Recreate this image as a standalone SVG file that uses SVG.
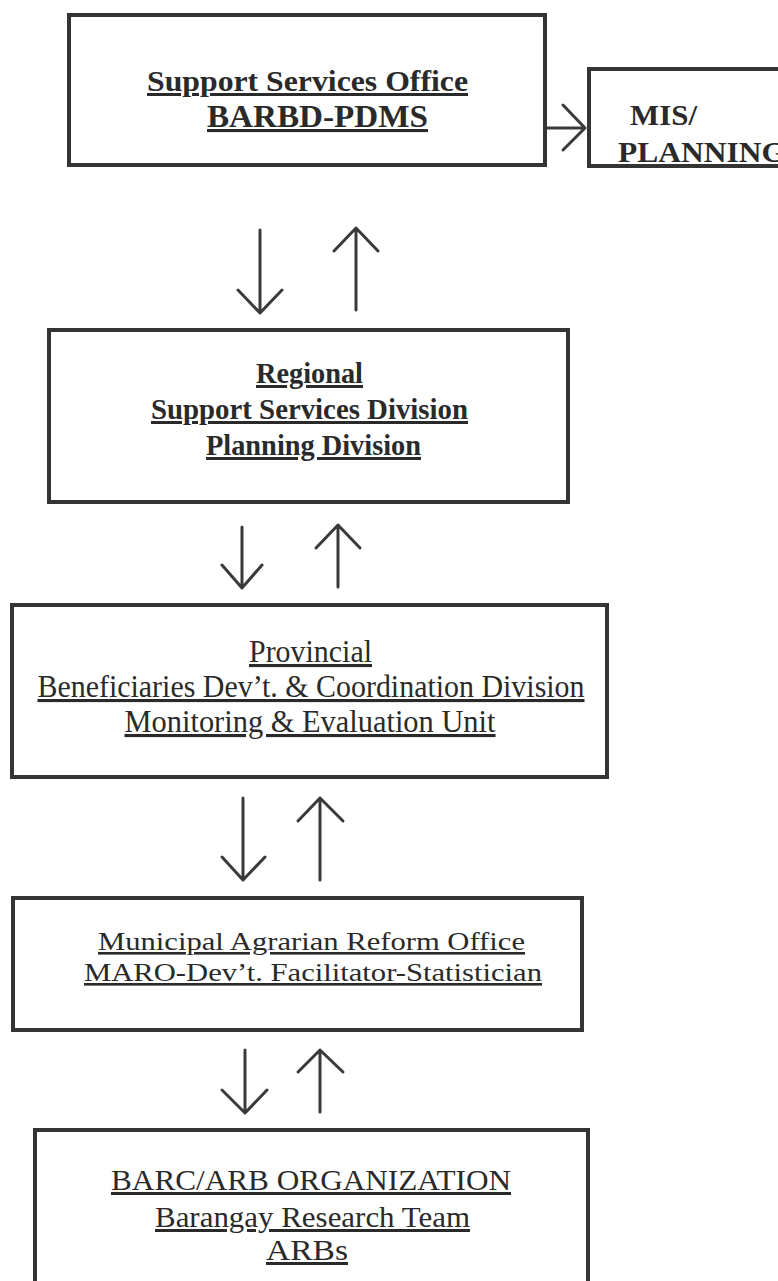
<svg xmlns="http://www.w3.org/2000/svg" width="778" height="1281" viewBox="0 0 778 1281">
<style>
.box{fill:none;stroke:#343434;stroke-width:4}
.arr{fill:none;stroke:#3a3a3a;stroke-width:3;stroke-linecap:round;stroke-linejoin:round}
text{font-family:"Liberation Serif","Times New Roman",serif;fill:#2a2a2a;text-decoration:underline;text-anchor:middle}
.b{font-weight:bold}
.plain{text-decoration:none;text-anchor:start}
</style>
<rect width="778" height="1281" fill="#ffffff"/>
<g id="connectors">
<path class="arr" d="M547 128 H585 M563 105 L585 128 L563 150"/>
<path class="arr" d="M260 230 V313 M238 290 L260 313 L282 290"/>
<path class="arr" d="M356 310 V228 M334 251 L356 228 L378 251"/>
<path class="arr" d="M242 527 V588 M222 565 L242 588 L262 565"/>
<path class="arr" d="M338 587 V525 M316 548 L338 525 L360 548"/>
<path class="arr" d="M243 798 V880 M222 857 L243 880 L265 857"/>
<path class="arr" d="M320 880 V798 M298 821 L320 798 L343 821"/>
<path class="arr" d="M245 1050 V1113 M222 1090 L245 1113 L267 1090"/>
<path class="arr" d="M320 1112 V1050 M298 1072 L320 1050 L343 1072"/>
</g>
<g id="support-services-office">
<rect class="box" x="69" y="15" width="476" height="150"/>
<text class="b" x="307.5" y="91" font-size="30" textLength="321" lengthAdjust="spacingAndGlyphs">Support Services Office</text>
<text class="b" x="317.5" y="127" font-size="31" textLength="221" lengthAdjust="spacingAndGlyphs">BARBD-PDMS</text>
</g>
<g id="mis-planning">
<rect class="box" x="589" y="69" width="220" height="97"/>
<text class="b plain" x="630" y="125" font-size="29" textLength="67" lengthAdjust="spacingAndGlyphs">MIS/</text>
<text class="b plain" x="618" y="162" font-size="29" textLength="168" lengthAdjust="spacingAndGlyphs">PLANNING</text>
</g>
<g id="regional">
<rect class="box" x="49" y="330" width="519" height="172"/>
<text class="b" x="309.5" y="383" font-size="30" textLength="107" lengthAdjust="spacingAndGlyphs">Regional</text>
<text class="b" x="309.5" y="419" font-size="30" textLength="317" lengthAdjust="spacingAndGlyphs">Support Services Division</text>
<text class="b" x="313.5" y="455" font-size="30" textLength="215" lengthAdjust="spacingAndGlyphs">Planning Division</text>
</g>
<g id="provincial">
<rect class="box" x="12" y="605" width="595" height="172"/>
<text x="310.5" y="662" font-size="31" textLength="123" lengthAdjust="spacingAndGlyphs">Provincial</text>
<text x="311" y="697" font-size="31" textLength="547" lengthAdjust="spacingAndGlyphs">Beneficiaries Dev’t. &amp; Coordination Division</text>
<text x="310" y="732" font-size="31" textLength="371" lengthAdjust="spacingAndGlyphs">Monitoring &amp; Evaluation Unit</text>
</g>
<g id="municipal">
<rect class="box" x="13" y="898" width="569" height="132"/>
<text x="311.5" y="950" font-size="26" textLength="427" lengthAdjust="spacingAndGlyphs">Municipal Agrarian Reform Office</text>
<text x="313" y="981" font-size="26" textLength="458" lengthAdjust="spacingAndGlyphs">MARO-Dev’t. Facilitator-Statistician</text>
</g>
<g id="barc-arb">
<rect class="box" x="35" y="1130" width="553" height="170"/>
<text x="311" y="1190" font-size="30" textLength="400" lengthAdjust="spacingAndGlyphs">BARC/ARB ORGANIZATION</text>
<text x="312.5" y="1227" font-size="30" textLength="315" lengthAdjust="spacingAndGlyphs">Barangay Research Team</text>
<text x="307" y="1260" font-size="30" textLength="82" lengthAdjust="spacingAndGlyphs">ARBs</text>
</g>
</svg>
